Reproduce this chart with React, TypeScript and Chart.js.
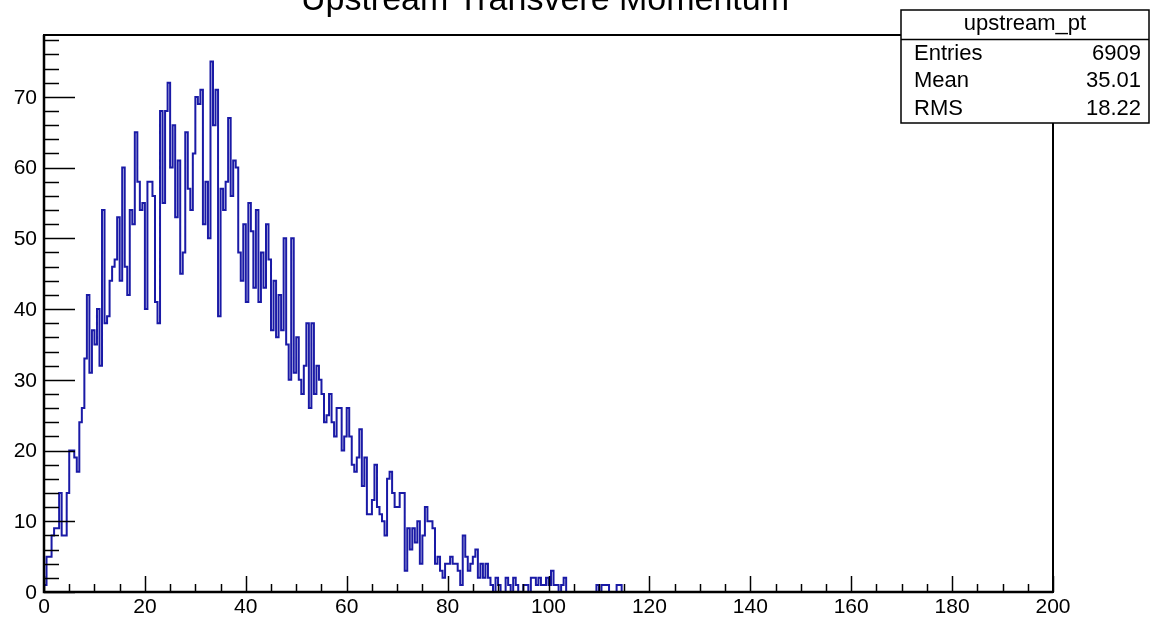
import React, { useEffect, useRef } from "react";
import { Chart, registerables } from "chart.js";

Chart.register(...registerables);

// Histogram "upstream_pt": 400 bins from 0 to 200 (bin width 0.5)
const histLow = 0;
const histHigh = 200;
const binCounts = [
  1, 1, 5, 5, 8, 9, 9, 14, 8, 8, 14, 20, 20, 19, 17, 24, 26, 33, 42, 31,
  37, 35, 40, 32, 54, 38, 39, 44, 46, 47, 53, 44, 60, 46, 42, 54, 52, 65, 58, 54,
  55, 40, 58, 58, 56, 41, 38, 68, 55, 68, 72, 60, 66, 53, 61, 45, 48, 65, 57, 54,
  62, 70, 69, 71, 52, 58, 50, 75, 66, 71, 39, 57, 54, 58, 67, 56, 61, 60, 48, 44,
  52, 41, 55, 51, 43, 54, 41, 48, 43, 52, 47, 37, 44, 36, 42, 37, 50, 35, 30, 50,
  31, 36, 30, 28, 32, 38, 26, 38, 28, 32, 30, 28, 24, 25, 28, 24, 22, 26, 26, 20,
  22, 26, 22, 18, 17, 19, 23, 15, 19, 11, 11, 13, 18, 12, 11, 10, 8, 16, 17, 14,
  12, 12, 14, 14, 3, 9, 6, 9, 7, 10, 4, 8, 12, 10, 10, 9, 4, 5, 3, 2,
  4, 4, 5, 4, 4, 3, 1, 8, 5, 3, 4, 5, 6, 2, 4, 2, 4, 2, 1, 0,
  2, 1, 0, 0, 2, 1, 0, 2, 1, 0, 0, 1, 1, 0, 2, 2, 1, 2, 1, 1,
  2, 1, 3, 1, 1, 0, 1, 2, 0, 0, 0, 0, 0, 0, 0, 0, 0, 0, 0, 0,
  1, 0, 1, 1, 1, 0, 0, 0, 1, 1, 0, 0, 0, 0, 0, 0, 0, 0, 0, 0,
  0, 0, 0, 0, 0, 0, 0, 0, 0, 0, 0, 0, 0, 0, 0, 0, 0, 0, 0, 0,
  0, 0, 0, 0, 0, 0, 0, 0, 0, 0, 0, 0, 0, 0, 0, 0, 0, 0, 0, 0,
  0, 0, 0, 0, 0, 0, 0, 0, 0, 0, 0, 0, 0, 0, 0, 0, 0, 0, 0, 0,
  0, 0, 0, 0, 0, 0, 0, 0, 0, 0, 0, 0, 0, 0, 0, 0, 0, 0, 0, 0,
  0, 0, 0, 0, 0, 0, 0, 0, 0, 0, 0, 0, 0, 0, 0, 0, 0, 0, 0, 0,
  0, 0, 0, 0, 0, 0, 0, 0, 0, 0, 0, 0, 0, 0, 0, 0, 0, 0, 0, 0,
  0, 0, 0, 0, 0, 0, 0, 0, 0, 0, 0, 0, 0, 0, 0, 0, 0, 0, 0, 0,
  0, 0, 0, 0, 0, 0, 0, 0, 0, 0, 0, 0, 0, 0, 0, 0, 0, 0, 0, 0,
];

const yAxisMax = 78.75;
const xMajorTicks = [0, 20, 40, 60, 80, 100, 120, 140, 160, 180, 200];
const xTickLabels = ["0", "20", "40", "60", "80", "100", "120", "140", "160", "180", "200"];
const xMinorStep = 5;
const yMajorTicks = [0, 10, 20, 30, 40, 50, 60, 70];
const yTickLabels = ["0", "10", "20", "30", "40", "50", "60", "70"];
const yMinorStep = 2;

const titleText = "Upstream Transvere Momentum";
const statsName = "upstream_pt";
const statsLabels = ["Entries", "Mean", "RMS"];
const statsValues = ["6909", "35.01", "18.22"];

const FONT = '"Liberation Sans", Arial, Helvetica, sans-serif';
const LINE_COLOR = "#1a1aa6";

const rootStylePlugin = {
  id: "rootStyle",
  beforeDraw(chart: any) {
    const { ctx, width, height } = chart;
    ctx.save();
    ctx.fillStyle = "#ffffff";
    ctx.fillRect(0, 0, width, height);
    ctx.restore();
  },
  afterDatasetsDraw(chart: any) {
    const { ctx, chartArea, scales } = chart;
    const { left, right, top, bottom } = chartArea;
    const xs = scales.x;
    const ys = scales.y;
    ctx.save();
    ctx.strokeStyle = "#000000";

    // frame
    ctx.lineWidth = 2;
    ctx.strokeRect(left, top, right - left, bottom - top);

    // y ticks (inside)
    ctx.lineWidth = 1.5;
    for (let v = 0; v <= yAxisMax; v += yMinorStep) {
      const py = Math.round(ys.getPixelForValue(v)) + 0.5;
      const isMajor = yMajorTicks.includes(v);
      const len = isMajor ? 31 : 15;
      ctx.beginPath();
      ctx.moveTo(left, py);
      ctx.lineTo(left + len, py);
      ctx.stroke();
    }
    // x ticks (inside)
    for (let v = histLow; v <= histHigh; v += xMinorStep) {
      const px = Math.round(xs.getPixelForValue(v)) + 0.5;
      const isMajor = xMajorTicks.includes(v);
      const len = isMajor ? 16 : 8;
      ctx.beginPath();
      ctx.moveTo(px, bottom);
      ctx.lineTo(px, bottom - len);
      ctx.stroke();
    }

    // axis lines (thicker)
    ctx.lineWidth = 2.5;
    ctx.beginPath();
    ctx.moveTo(left, top);
    ctx.lineTo(left, bottom);
    ctx.lineTo(right, bottom);
    ctx.stroke();

    // tick labels
    ctx.fillStyle = "#000000";
    ctx.font = `21px ${FONT}`;
    ctx.textAlign = "right";
    ctx.textBaseline = "middle";
    yMajorTicks.forEach((v, i) => {
      const py = ys.getPixelForValue(v);
      ctx.fillText(yTickLabels[i], left - 7, py + 1);
    });
    ctx.textAlign = "center";
    ctx.textBaseline = "top";
    xMajorTicks.forEach((v, i) => {
      const px = xs.getPixelForValue(v);
      ctx.fillText(xTickLabels[i], px, bottom + 5);
    });

    // title
    ctx.font = `34px ${FONT}`;
    ctx.textAlign = "center";
    ctx.textBaseline = "alphabetic";
    ctx.fillText(titleText, 545, 10);

    // stats box
    const bx = 901;
    const by = 10;
    const bw = 248;
    const bh = 113;
    ctx.fillStyle = "#ffffff";
    ctx.fillRect(bx, by, bw, bh);
    ctx.lineWidth = 1.5;
    ctx.strokeRect(bx, by, bw, bh);
    ctx.beginPath();
    ctx.moveTo(bx, 39.5);
    ctx.lineTo(bx + bw, 39.5);
    ctx.stroke();
    ctx.fillStyle = "#000000";
    ctx.font = `22px ${FONT}`;
    ctx.textBaseline = "middle";
    ctx.textAlign = "center";
    ctx.fillText(statsName, bx + bw / 2, 24);
    const rowY = [54, 81, 109];
    statsLabels.forEach((lab, i) => {
      ctx.textAlign = "left";
      ctx.fillText(lab, bx + 13, rowY[i]);
      ctx.textAlign = "right";
      ctx.fillText(statsValues[i], bx + bw - 8, rowY[i]);
    });

    ctx.restore();
  },
};

export default function App() {
  const canvasRef = useRef<HTMLCanvasElement | null>(null);

  useEffect(() => {
    if (!canvasRef.current) return;
    const binWidth = (histHigh - histLow) / binCounts.length;
    const points = binCounts.map((c, i) => ({ x: histLow + i * binWidth, y: c }));
    points.push({ x: histHigh, y: binCounts[binCounts.length - 1] });

    const chart = new Chart(canvasRef.current, {
      type: "line",
      data: {
        datasets: [
          {
            label: statsName,
            data: points,
            stepped: "after",
            borderColor: LINE_COLOR,
            borderWidth: 2,
            pointRadius: 0,
            fill: false,
            tension: 0,
          },
        ],
      },
      options: {
        animation: false,
        responsive: false,
        maintainAspectRatio: false,
        devicePixelRatio: 1,
        layout: { padding: { left: 44, right: 98, top: 35, bottom: 26 } },
        plugins: { legend: { display: false }, tooltip: { enabled: false }, title: { display: false } },
        scales: {
          x: { type: "linear", min: histLow, max: histHigh, display: false },
          y: { type: "linear", min: 0, max: yAxisMax, display: false },
        },
        events: [],
      },
      plugins: [rootStylePlugin],
    });
    return () => chart.destroy();
  }, []);

  return (
    <div style={{ position: "fixed", left: 0, top: 0, width: 1151, height: 618, background: "#fff" }}>
      <canvas ref={canvasRef} width={1151} height={618} style={{ width: 1151, height: 618, display: "block" }} />
    </div>
  );
}
